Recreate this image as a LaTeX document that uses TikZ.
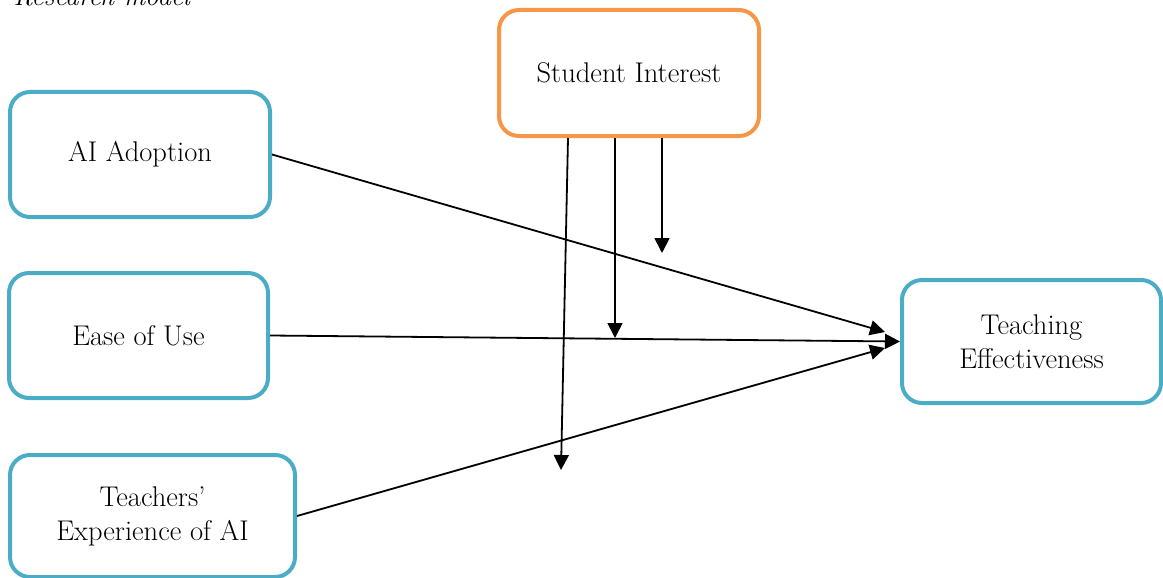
\documentclass[tikz,border=0pt]{standalone}
\usepackage{fontspec}
\usetikzlibrary{arrows.meta}
\definecolor{boxblue}{HTML}{4BACC6}
\definecolor{boxorange}{HTML}{F79646}
\begin{document}
\begin{tikzpicture}[x=1pt,y=-1pt,
  box/.style={draw=boxblue, line width=4pt, rounded corners=20pt, fill=white,
    align=center, font=\fontsize{28.5}{34}\selectfont, inner sep=0pt},
  modbox/.style={box, draw=boxorange},
  link/.style={line width=1.8pt, -{Triangle[length=15pt,width=15pt]}}]
\useasboundingbox (0,0) rectangle (1163,578);
\node[anchor=base west, font=\fontsize{27}{33}\selectfont\itshape] (title) at (10,6) {Research model};
\node[box, minimum width=260pt, minimum height=125pt] (ai) at (140,154.5) {AI Adoption};
\node[box, minimum width=259pt, minimum height=125pt] (es) at (138.5,335.5) {Ease of Use};
\node[box, minimum width=285pt, minimum height=122pt] (tx) at (152.5,516) {Teachers’\\Experience of AI};
\node[modbox, minimum width=260pt, minimum height=126pt] (si) at (629,73) {Student Interest};
\node[box, minimum width=259pt, minimum height=123pt] (te) at (1031.5,341.5) {Teaching\\Effectiveness};
\coordinate (t1) at (885,332);
\coordinate (t3) at (885,348);
\coordinate (m1) at (561,470);
\coordinate (m2) at (615,338);
\coordinate (m3) at (662,253);
\draw[link] (ai.east) -- (t1);
\draw[link] (es.east) -- (te.west);
\draw[link] (tx.east) -- (t3);
\draw[link] ([xshift=-61pt]si.south) -- (m1);
\draw[link] ([xshift=-14pt]si.south) -- (m2);
\draw[link] ([xshift=33pt]si.south) -- (m3);
\end{tikzpicture}
\end{document}
